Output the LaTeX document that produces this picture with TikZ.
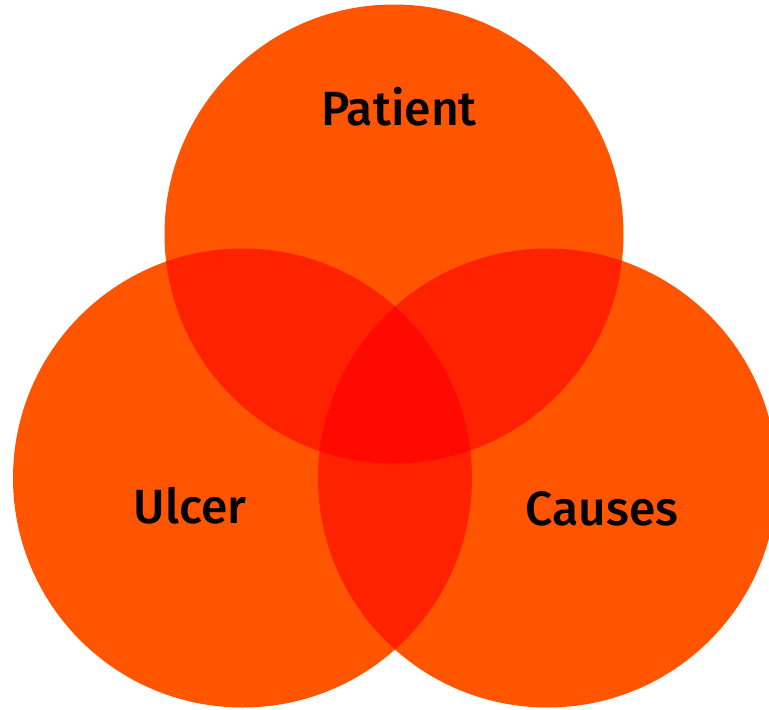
\documentclass[tikz,border=0pt]{standalone}
\usepackage{fontspec}
\setmainfont{Fira Sans}[UprightFont=* Medium]
\definecolor{vbase}{HTML}{FF5500}
\definecolor{vpair}{HTML}{FF2200}
\definecolor{vtriple}{HTML}{FF0A00}
\begin{document}
\begin{tikzpicture}[x=1pt,y=-1pt,
  setlabel/.style={font=\fontsize{48}{48}\selectfont, text=black, inner sep=0pt, anchor=base}]
\useasboundingbox (0,0) rectangle (769,710);
\def\ra{229.5}
% circle centres
\coordinate (cp) at (394,234);
\coordinate (cu) at (242.5,478);
\coordinate (cc) at (547.5,478);
% the three sets
\fill[vbase] (cp) circle[radius=\ra];
\fill[vbase] (cu) circle[radius=\ra];
\fill[vbase] (cc) circle[radius=\ra];
% pairwise overlaps
\begin{scope}
  \clip (cp) circle[radius=\ra];
  \fill[vpair] (cu) circle[radius=\ra];
  \fill[vpair] (cc) circle[radius=\ra];
\end{scope}
\begin{scope}
  \clip (cu) circle[radius=\ra];
  \fill[vpair] (cc) circle[radius=\ra];
\end{scope}
% triple overlap
\begin{scope}
  \clip (cp) circle[radius=\ra];
  \clip (cu) circle[radius=\ra];
  \fill[vtriple] (cc) circle[radius=\ra];
\end{scope}
% labels
\node[setlabel] (patient) at (399,125) {Patient};
\node[setlabel] (ulcer) at (190,523) {Ulcer};
\node[setlabel] (causes) at (602,525) {Causes};
\end{tikzpicture}
\end{document}
